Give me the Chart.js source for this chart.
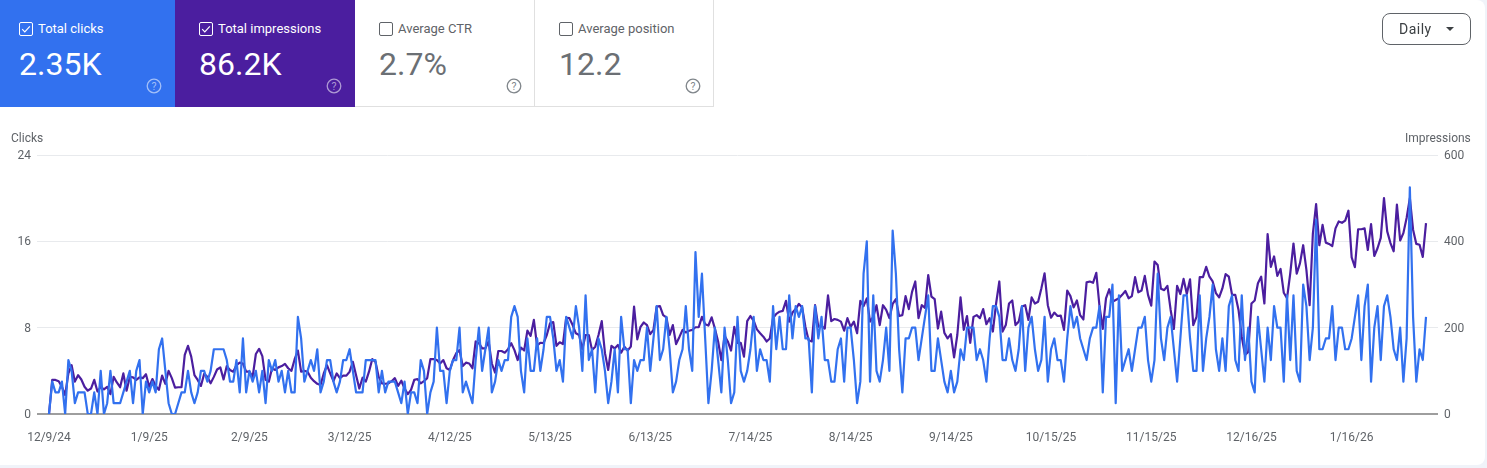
<!DOCTYPE html>
<html>
<head>
<meta charset="utf-8">
<script src="https://cdn.jsdelivr.net/npm/chart.js@4"></script>
<style>
html,body{margin:0;padding:0;background:#f0f3f9;width:1487px;height:468px;overflow:hidden;font-family:Roboto,sans-serif}
#card{position:absolute;left:-8px;top:0;width:1493px;height:465px;background:#fff;border-radius:8px}
#c{position:absolute;left:0;top:0}
.tile{position:absolute;top:0;height:107px;box-sizing:border-box}
.tile .cb{position:absolute;left:19px;top:22px;width:14px;height:14px}
.tile .lb{position:absolute;top:21px;font-size:13px;line-height:16px;white-space:nowrap}
.tile .val{position:absolute;left:19px;top:44px;font-size:32px;line-height:40px;white-space:nowrap}
.tile .hp{position:absolute;top:78px;width:16px;height:16px}
.axt{position:absolute;top:131px;font-size:12px;line-height:15px;color:#5f6368}
#btn{position:absolute;left:1382px;top:13px;width:89px;height:32px;box-sizing:border-box;border:1px solid #5f6368;border-radius:8px;background:#fff}
#btn span{position:absolute;left:16px;top:7px;font-size:14px;line-height:17px;color:#3c4043;letter-spacing:.5px}
#btn i{position:absolute;left:63px;top:13px;width:0;height:0;border-left:4.5px solid transparent;border-right:4.5px solid transparent;border-top:4.5px solid #3c4043}
</style>
</head>
<body>
<div id="card"></div>
<canvas id="c" width="1487" height="468" style="width:1487px;height:468px"></canvas>
<div id="tiles"></div>
<div class="axt" style="left:11px">Clicks</div>
<div class="axt" style="left:1405px">Impressions</div>
<div id="btn"><span>Daily</span><i></i></div>
<script>
const tickLabels = ["12/9/24","1/9/25","2/9/25","3/12/25","4/12/25","5/13/25","6/13/25","7/14/25","8/14/25","9/14/25","10/15/25","11/15/25","12/16/25","1/16/26"];
const clicksAxisTicks = [0,8,16,24];
const impressionsAxisTicks = [0,200,400,600];

const clicks = [
0,3,2,2,3,0,5,4,1,2,
2,2,0,0,2,0,4,0,1,4,
1,1,1,2,3,4,1,4,5,0,
3,2,3,2,6,7,4,1,0,0,
1,2,2,4,2,1,2,4,4,3,
4,6,6,6,6,5,3,3,5,2,
7,2,4,3,4,2,4,1,5,4,
5,3,4,2,4,2,2,9,7,3,
4,5,4,6,2,3,5,5,3,2,
3,5,5,6,4,2,2,2,5,5,
5,5,2,4,2,3,3,3,2,1,
3,0,2,2,1,5,4,0,2,3,
8,4,4,1,4,5,5,8,2,3,
2,1,5,8,4,6,8,2,3,5,
4,5,5,9,10,9,4,2,7,4,
4,7,4,6,9,9,7,4,5,3,
9,8,7,10,8,4,11,5,6,2,
7,6,4,1,3,6,2,9,6,6,
1,5,4,5,5,8,4,7,10,5,
6,9,6,2,3,5,6,10,6,4,
15,9,13,7,1,4,8,5,2,8,
5,1,2,9,4,3,4,6,9,4,
6,5,5,3,10,6,9,6,6,11,
7,10,9,10,7,7,2,10,7,9,
5,5,3,3,6,7,3,8,8,5,
1,3,13,16,3,11,4,3,5,8,
4,17,13,6,2,7,7,8,8,5,
7,9,11,4,4,7,5,3,2,4,
2,3,6,5,8,8,8,5,6,5,
3,7,10,10,9,5,5,7,5,4,
6,10,4,8,9,6,4,5,9,3,
6,7,5,5,3,7,10,8,9,7,
6,5,7,8,8,10,2,9,9,12,
1,11,4,5,6,4,6,8,8,9,
5,3,5,13,7,5,8,9,6,3,
7,11,11,7,4,4,11,4,7,9,
12,6,4,7,4,10,11,5,4,11,
5,8,3,2,9,6,3,8,5,10,
8,8,3,11,5,11,4,3,12,10,
5,8,18,6,6,7,7,10,5,8,
8,6,6,7,9,11,5,10,12,3,
8,10,5,10,11,9,6,5,8,3,
7,21,9,3,6,5,9];

const impressions = [
0,79,79,76,63,44,94,113,75,90,
80,63,54,59,79,52,63,57,63,46,
86,73,62,94,54,86,85,79,85,83,
92,63,81,65,56,89,70,100,83,61,
62,62,137,158,133,90,79,65,93,86,
71,86,103,108,80,111,102,98,113,119,
117,98,98,86,139,151,134,79,75,106,
102,108,111,116,106,100,127,147,98,100,
98,84,76,70,67,94,113,94,76,94,
83,89,89,98,121,90,59,84,75,98,
127,121,86,71,70,71,76,83,65,77,
59,46,56,79,81,71,76,83,127,127,
125,117,125,106,102,125,141,148,111,119,
117,106,168,164,152,152,168,117,96,146,
146,142,150,164,148,125,154,147,193,181,
218,158,165,164,183,210,213,158,166,162,
223,222,206,187,183,150,183,183,148,156,
183,215,141,102,158,152,160,142,156,147,
156,249,173,202,212,206,185,195,249,250,
229,224,183,206,162,178,195,189,193,195,
201,201,225,208,205,224,198,168,125,181,
168,147,202,165,165,133,215,227,216,196,
187,179,168,175,222,232,237,239,262,214,
235,243,255,247,202,171,168,252,202,204,
198,275,215,220,218,214,193,222,202,214,
187,262,250,268,214,225,252,206,252,241,
222,255,266,227,229,273,243,283,307,222,
252,246,322,272,266,198,237,188,175,185,
131,183,270,195,227,165,225,229,222,243,
208,222,191,256,307,191,206,256,263,206,
214,249,252,218,270,256,260,291,326,252,
223,235,227,228,195,286,273,247,263,229,
219,305,307,304,327,249,197,268,289,260,
264,268,276,285,268,273,317,282,286,320,
276,251,353,345,290,287,297,241,197,297,
278,313,278,312,206,225,317,317,341,318,
307,280,270,291,324,318,276,276,241,179,
137,144,256,263,303,318,256,417,341,365,
320,336,281,268,326,395,325,349,391,334,
252,418,486,391,438,397,394,389,430,446,
443,448,471,363,340,428,428,430,380,440,
366,384,408,500,423,396,377,485,402,419,
454,500,427,394,392,364,442];

const metrics = [
  {name:"Total clicks",value:"2.35K",x:0,w:175,on:true,bg:"#3271ef"},
  {name:"Total impressions",value:"86.2K",x:175,w:180,on:true,bg:"#4b1e9f"},
  {name:"Average CTR",value:"2.7%",x:355,w:180,on:false,bg:"#fff"},
  {name:"Average position",value:"12.2",x:535,w:179,on:false,bg:"#fff"}
];

const tilesEl = document.getElementById('tiles');
metrics.forEach((m,i)=>{
  const fg = m.on ? '#fff' : '#6b6f74';
  const offs = i===0 ? 19 : 24;
  const t = document.createElement('div');
  t.className='tile';
  t.style.cssText = `left:${m.x}px;width:${m.w}px;background:${m.bg};` + (m.on?'':'border-right:1px solid #e0e0e0;border-bottom:1px solid #e0e0e0;');
  const cb = m.on
   ? `<svg class="cb" style="left:${offs}px" viewBox="0 0 14 14"><rect x=".5" y=".5" width="13" height="13" rx="1.5" fill="none" stroke="#fff"/><path d="M3.2 7.2l2.6 2.6 5-5.4" fill="none" stroke="#fff" stroke-width="1.2"/></svg>`
   : `<svg class="cb" style="left:${offs}px" viewBox="0 0 14 14"><rect x=".5" y=".5" width="13" height="13" rx="1.5" fill="none" stroke="#5f6368"/></svg>`;
  const hpCol = m.on ? 'rgba(255,255,255,.55)' : '#80868b';
  const hpLeft = m.w - 29;
  t.innerHTML = cb +
   `<div class="lb" style="left:${offs+19}px;color:${m.on?'#fff':'#5f6368'}">${m.name}</div>`+
   `<div class="val" style="left:${offs}px;color:${fg}">${m.value}</div>`+
   `<svg class="hp" style="left:${hpLeft}px" viewBox="0 0 16 16"><circle cx="8" cy="8" r="6.8" fill="none" stroke="${hpCol}" stroke-width="1.3"/><text x="8" y="11.8" font-size="10.5" font-family="Roboto" text-anchor="middle" fill="${hpCol}">?</text></svg>`;
  tilesEl.appendChild(t);
});

const tickFont = {family:'Roboto',size:12};
const tickColor = '#5f6368';
const X_PAD = 3.71;
const tickStep = 31;

new Chart(document.getElementById('c'),{
  type:'line',
  data:{datasets:[
    {label:'Clicks',data:clicks.map((v,i)=>({x:i,y:v})),yAxisID:'y',borderColor:'#3271ef',borderWidth:2.2,borderJoinStyle:'round',pointRadius:0,tension:0,order:1,fill:false},
    {label:'Impressions',data:impressions.map((v,i)=>({x:i,y:v})),yAxisID:'y1',borderColor:'#4b1e9f',borderWidth:2.2,borderJoinStyle:'round',pointRadius:0,tension:0,order:2,fill:false}
  ]},
  options:{
    responsive:false,animation:false,devicePixelRatio:1,
    layout:{padding:{top:155,left:0,right:0,bottom:0}},
    plugins:{legend:{display:false},tooltip:{enabled:false}},
    scales:{
      x:{type:'linear',min:-X_PAD,max:clicks.length-1+X_PAD,
        afterBuildTicks:s=>{s.ticks=tickLabels.map((_,i)=>({value:i*tickStep}));},
        afterFit:s=>{s.height=54;},
        grid:{display:false},border:{display:false},
        ticks:{autoSkip:false,maxRotation:0,padding:9,font:tickFont,color:tickColor,
          callback:v=>tickLabels[Math.round(v/tickStep)]}},
      y:{type:'linear',position:'left',min:0,max:24,
        afterBuildTicks:s=>{s.ticks=clicksAxisTicks.map(v=>({value:v}));},
        afterFit:s=>{s.width=37;},
        border:{display:false},
        grid:{drawTicks:false,tickLength:0,
          color:c=>c.tick.value===0?'#9e9e9e':'#e8eaed',
          lineWidth:c=>c.tick.value===0?2:1},
        ticks:{padding:6,labelOffset:1,font:tickFont,color:tickColor}},
      y1:{type:'linear',position:'right',min:0,max:600,
        afterBuildTicks:s=>{s.ticks=impressionsAxisTicks.map(v=>({value:v}));},
        afterFit:s=>{s.width=49;},
        border:{display:false},
        grid:{display:false,drawTicks:false,tickLength:0},
        ticks:{padding:6,labelOffset:1,font:tickFont,color:tickColor}}
    }
  }
});
</script>
</body>
</html>
